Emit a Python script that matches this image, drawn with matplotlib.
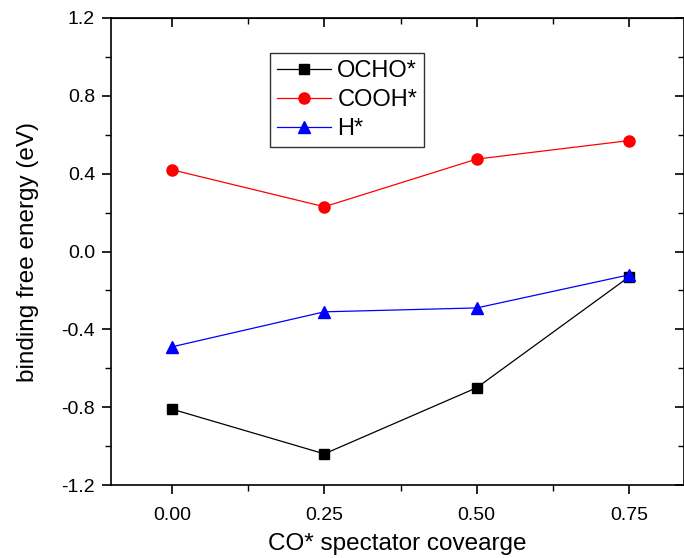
import matplotlib
matplotlib.use("Agg")
import matplotlib.pyplot as plt
from matplotlib.ticker import MultipleLocator

plt.rcParams['font.family'] = ['Liberation Sans', 'DejaVu Sans']

coverage = [0.0, 0.25, 0.5, 0.75]
ocho = [-0.81, -1.04, -0.70, -0.13]
cooh = [0.42, 0.23, 0.475, 0.57]
h_star = [-0.49, -0.31, -0.29, -0.12]

fig = plt.figure(figsize=(6.84, 5.58), dpi=100)
ax = fig.add_axes([111/684, 1-485/558, 573/684, 467/558])

ax.plot(coverage, ocho, color='black', lw=0.9, marker='s', ms=7, label='OCHO*')
ax.plot(coverage, cooh, color='red', lw=0.9, marker='o', ms=8, label='COOH*')
ax.plot(coverage, h_star, color='blue', lw=0.9, marker='^', ms=8, label='H*')

ax.set_xlim(-0.1, 0.84)
ax.set_ylim(-1.2, 1.2)
ax.set_xticks([0.0, 0.25, 0.5, 0.75])
ax.set_xticklabels(['0.00', '0.25', '0.50', '0.75'])
ax.xaxis.set_minor_locator(MultipleLocator(0.125))
ax.set_yticks([-1.2, -0.8, -0.4, 0.0, 0.4, 0.8, 1.2])
ax.set_yticklabels(['-1.2', '-0.8', '-0.4', '0.0', '0.4', '0.8', '1.2'])
ax.yaxis.set_minor_locator(MultipleLocator(0.2))

ax.tick_params(axis='both', which='major', labelsize=14, length=6.5, width=1.2, direction='out', pad=5)
ax.tick_params(axis='x', which='major', pad=9)
ax.tick_params(axis='both', which='minor', length=4, width=1.0, direction='out')
ax.tick_params(top=False, right=False, which='both')

sec_x = ax.secondary_xaxis('top')
sec_x.set_xticks([0.0, 0.25, 0.5, 0.75])
sec_x.xaxis.set_minor_locator(MultipleLocator(0.125))
sec_x.tick_params(which='major', direction='in', length=6.5, width=1.2, labeltop=False)
sec_x.tick_params(which='minor', direction='in', length=4, width=1.0)
sec_y = ax.secondary_yaxis('right')
sec_y.set_yticks([-1.2, -0.8, -0.4, 0.0, 0.4, 0.8, 1.2])
sec_y.yaxis.set_minor_locator(MultipleLocator(0.2))
sec_y.tick_params(which='major', direction='in', length=6.5, width=1.2, labelright=False)
sec_y.tick_params(which='minor', direction='in', length=4, width=1.0)

for s in ax.spines.values():
    s.set_linewidth(1.2)

ax.set_xlabel('CO* spectator covearge', fontsize=17.5, labelpad=7)
ax.set_ylabel('binding free energy (eV)', fontsize=17.5, labelpad=16)

leg = ax.legend(loc='upper left', bbox_to_anchor=((270 - 111) / 573, (485 - 53) / 467),
                fontsize=17, frameon=True, fancybox=False, edgecolor='black',
                handlelength=2.3, handletextpad=0.25, borderpad=0.3, labelspacing=0.3,
                borderaxespad=0)
leg.get_frame().set_linewidth(1.0)

fig.savefig('out.png', dpi=100)
